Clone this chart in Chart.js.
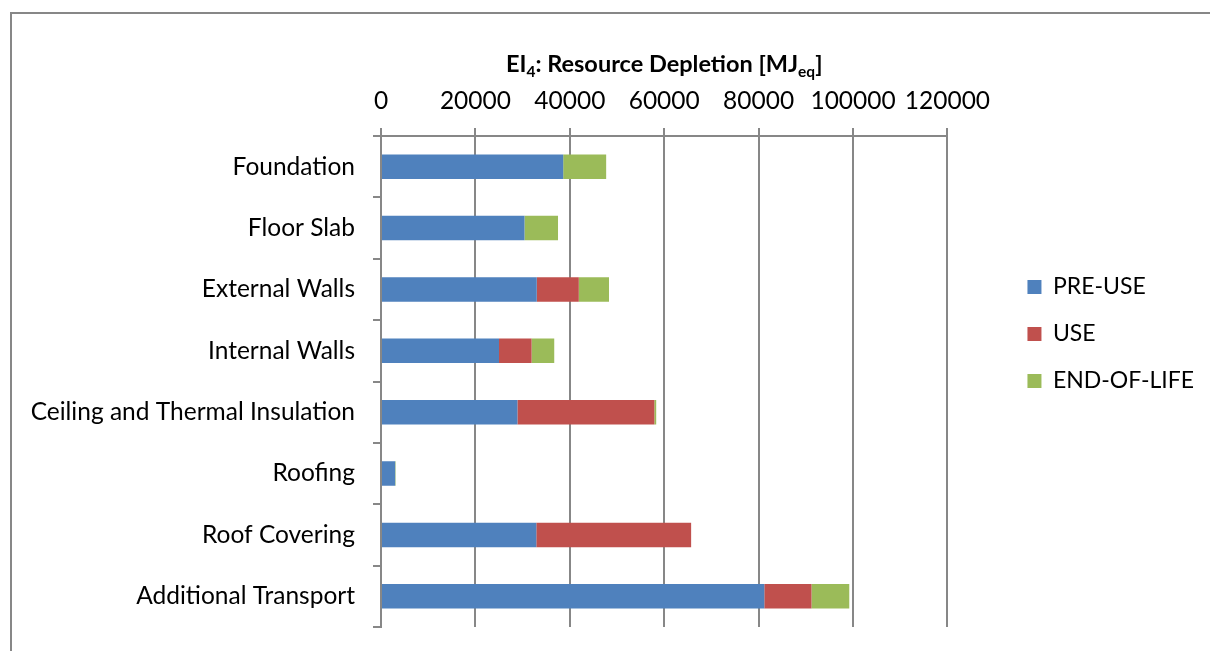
<!DOCTYPE html>
<html>
<head>
<meta charset="utf-8">
<script src="https://cdn.jsdelivr.net/npm/chart.js@4.4.1/dist/chart.umd.min.js"></script>
<style>
  html, body { margin: 0; padding: 0; background: #fff; }
  #wrap { position: relative; width: 1210px; height: 651px; overflow: hidden; }
  #frame { position: absolute; left: 10px; top: 12px; width: 1300px; height: 800px; border-top: 2px solid #878787; border-left: 2px solid #878787; box-sizing: border-box; }
  canvas { position: absolute; left: 0; top: 0; }
</style>
</head>
<body>
<div id="wrap">
  <div id="frame"></div>
  <canvas id="c" width="1210" height="651"></canvas>
</div>
<script>
const categories = ['Foundation', 'Floor Slab', 'External Walls', 'Internal Walls', 'Ceiling and Thermal Insulation', 'Roofing', 'Roof Covering', 'Additional Transport'];
const preUse    = [38600, 30400, 33000, 25000, 28900, 3000, 32900, 81200];
const use       = [0, 0, 8900, 6900, 29000, 0, 32800, 10000];
const endOfLife = [9100, 7100, 6400, 4800, 400, 100, 0, 8000];
const seriesNames = ['PRE-USE', 'USE', 'END-OF-LIFE'];
const xTicks = [0, 20000, 40000, 60000, 80000, 100000, 120000];
const titleParts = [['EI', false], ['4', true], [': Resource Depletion [MJ', false], ['eq', true], [']', false]];

const FONT = 'Lato';
const FS = 24.5;
const LEGEND_FS = 23;
const GRID = '#878787';
const LEGEND_GAP = 56;

const titlePlugin = {
  id: 'subTitle',
  afterLayout(chart) {
    const lg = chart.legend;
    if (lg) { lg.left += LEGEND_GAP; lg.right += LEGEND_GAP; }
  },
  afterDraw(chart) {
    const ctx = chart.ctx;
    const big = 'bold 23.5px "' + FONT + '"';
    const small = 'bold 15.5px "' + FONT + '"';
    ctx.save();
    let total = 0;
    titleParts.forEach(([t, sub]) => { ctx.font = sub ? small : big; total += ctx.measureText(t).width; });
    const cx = (chart.chartArea.left + chart.chartArea.right) / 2;
    let x = cx - total / 2;
    const base = 72;
    ctx.fillStyle = '#000';
    ctx.textBaseline = 'alphabetic';
    ctx.textAlign = 'left';
    titleParts.forEach(([t, sub]) => {
      ctx.font = sub ? small : big;
      ctx.fillText(t, x, sub ? base + 5 : base);
      x += ctx.measureText(t).width;
    });
    ctx.restore();
  }
};

new Chart(document.getElementById('c'), {
  type: 'bar',
  data: {
    labels: categories,
    datasets: [
      { label: seriesNames[0], data: preUse, backgroundColor: '#4F81BD' },
      { label: seriesNames[1], data: use, backgroundColor: '#C0504D' },
      { label: seriesNames[2], data: endOfLife, backgroundColor: '#9BBB59' }
    ]
  },
  options: {
    indexAxis: 'y',
    responsive: false,
    animation: false,
    barPercentage: 0.4,
    categoryPercentage: 1.0,
    layout: { padding: { top: 41, bottom: 24, left: 0, right: 62 } },
    plugins: {
      title: { display: false },
      tooltip: { enabled: false },
      legend: {
        position: 'right',
        labels: {
          boxWidth: 14, boxHeight: 14, padding: 24,
          color: '#000',
          font: { family: FONT, size: LEGEND_FS }
        }
      }
    },
    scales: {
      x: {
        position: 'top',
        stacked: true,
        min: 0, max: 120000,
        afterBuildTicks(scale) { scale.ticks = xTicks.map(v => ({ value: v })); },
        afterFit(scale) { scale.height = 95; scale.paddingLeft = 0; scale.paddingRight = 0; },
        ticks: { color: '#000', font: { family: FONT, size: FS }, padding: 12, maxRotation: 0, autoSkip: false, callback: v => String(v) },
        grid: { color: GRID, lineWidth: 2, tickLength: 8, drawOnChartArea: true },
        border: { color: GRID, width: 2 }
      },
      y: {
        stacked: true,
        afterFit(scale) { scale.width = 381; scale.paddingTop = 0; scale.paddingBottom = 0; },
        ticks: { color: '#000', font: { family: FONT, size: FS }, padding: 18 },
        grid: { color: GRID, lineWidth: 2, tickLength: 8, drawOnChartArea: false, offset: true },
        border: { color: GRID, width: 2 }
      }
    }
  },
  plugins: [titlePlugin]
});
</script>
</body>
</html>
